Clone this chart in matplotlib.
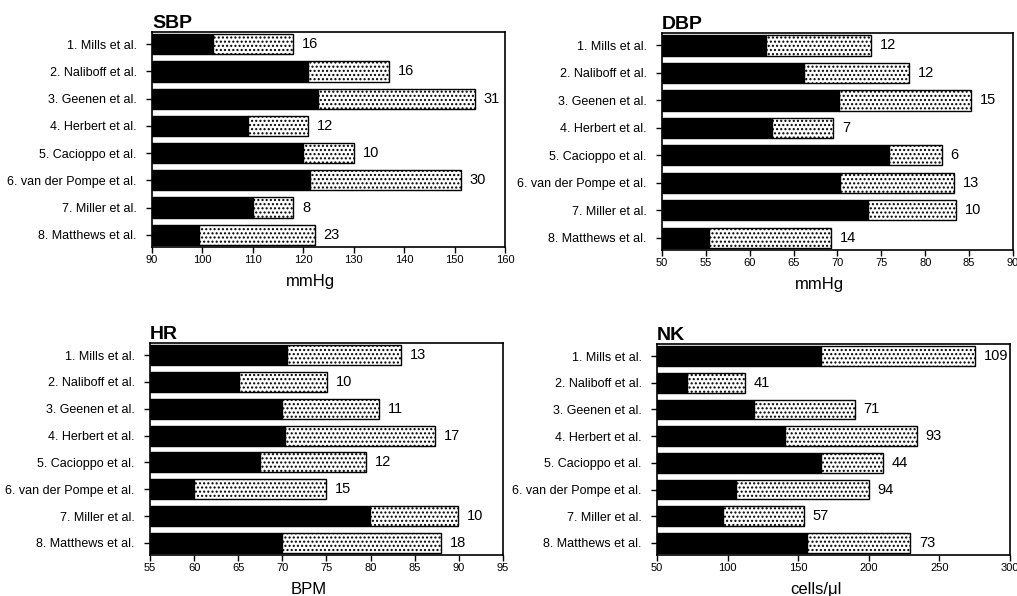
import numpy as np
import matplotlib
matplotlib.use("Agg")
import matplotlib.pyplot as plt

plt.rcParams['font.family'] = ['Liberation Sans', 'DejaVu Sans']
plt.rcParams['hatch.linewidth'] = 1.0

studies = ["1. Mills et al.", "2. Naliboff et al.", "3. Geenen et al.", "4. Herbert et al.",
           "5. Cacioppo et al.", "6. van der Pompe et al.", "7. Miller et al.", "8. Matthews et al."]

# baseline level (black) and increase (dotted) for each measure
sbp_base = [102, 121, 123, 109, 120, 121.3, 110, 99.3]
sbp_change = [16, 16, 31, 12, 10, 30, 8, 23]
dbp_base = [61.8, 66.2, 70.2, 62.5, 75.9, 70.3, 73.5, 55.3]
dbp_change = [12, 12, 15, 7, 6, 13, 10, 14]
hr_base = [70.5, 65.1, 70.0, 70.3, 67.5, 60.0, 79.9, 70.0]
hr_change = [13, 10, 11, 17, 12, 15, 10, 18]
nk_base = [166, 71, 119, 141, 166, 106, 97, 156.5]
nk_change = [109, 41, 71, 93, 44, 94, 57, 73]

panels = [
    ("SBP", "mmHg", sbp_base, sbp_change, (90, 160), 10, [0.1495, 0.5856, 0.347, 0.3607]),
    ("DBP", "mmHg", dbp_base, dbp_change, (50, 90), 5, [0.651, 0.5805, 0.345, 0.364]),
    ("HR", "BPM", hr_base, hr_change, (55, 95), 5, [0.1475, 0.0688, 0.347, 0.3557]),
    ("NK", "cells/\u03bcl", nk_base, nk_change, (50, 300), 50, [0.646, 0.0688, 0.347, 0.354]),
]

fig = plt.figure(figsize=(10.17, 5.96), dpi=100)

for title, unit, base, change, xlim, step, rect in panels:
    ax = fig.add_axes(rect)
    y = np.arange(len(studies))
    ax.barh(y, np.array(base) - xlim[0], left=xlim[0], height=0.74, color='black', edgecolor='black')
    ax.barh(y, change, left=base, height=0.74, color='white', edgecolor='black',
            hatch='....', linewidth=1.0)
    span = xlim[1] - xlim[0]
    for yi, b, c in zip(y, base, change):
        ax.text(b + c + span * 0.025, yi, str(c), va='center', ha='left', fontsize=10.5)
    ax.set_xlim(xlim)
    ax.set_ylim(len(studies) - 0.55, -0.45)
    ax.set_yticks(y)
    ax.set_yticklabels(studies, fontsize=9)
    ax.set_xticks(np.arange(xlim[0], xlim[1] + step / 2, step))
    ax.tick_params(axis='x', labelsize=8, length=4, width=1, direction='out', pad=2)
    ax.tick_params(axis='y', length=4, width=1, direction='out', pad=7)
    for s in ax.spines.values():
        s.set_linewidth(1.2)
    ax.set_title(title, loc='left', fontweight='bold', fontsize=14, pad=3)
    ax.set_xlabel(unit, fontsize=12, x=0.45, labelpad=6)

fig.savefig("out.png", dpi=100)
